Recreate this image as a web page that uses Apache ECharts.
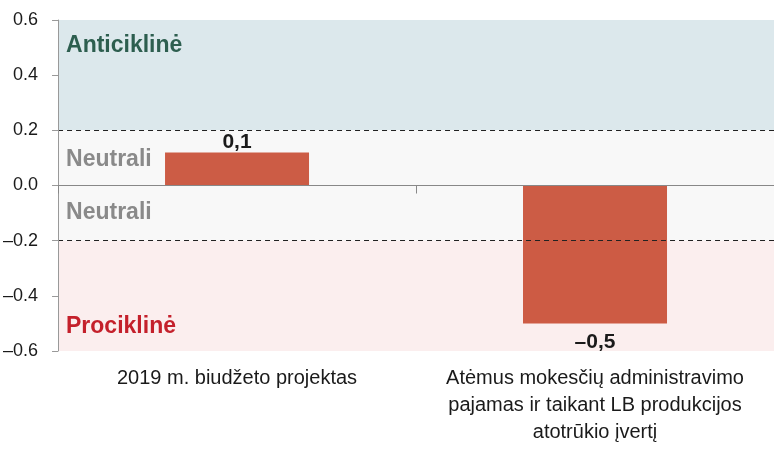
<!DOCTYPE html>
<html>
<head>
<meta charset="utf-8">
<script src="https://cdn.jsdelivr.net/npm/echarts@6/dist/echarts.min.js"></script>
<style>
html, body { margin: 0; padding: 0; background: #fff; }
#main { width: 774px; height: 453px; }
</style>
</head>
<body>
<div id="main"></div>
<script>
var categories = ['2019 m. biudžeto projektas', 'Atėmus mokesčių administravimo\npajamas ir taikant LB produkcijos\natotrūkio įvertį'];
var values = [0.12, -0.5];
var valueLabels = ['0,1', '–0,5'];
var zoneNames = ['Anticiklinė', 'Neutrali', 'Neutrali', 'Prociklinė'];
var zoneBounds = [[0.2, 0.6], [0, 0.2], [-0.2, 0], [-0.6, -0.2]];
var dashedLevels = [0.2, -0.2];

var font = "'Liberation Sans', Arial, sans-serif";
var zoneColors = ['#dce8ec', '#f8f8f8', '#f8f8f8', '#fbeeee'];
var zoneText = ['#2d5e4f', '#8a8a8a', '#8a8a8a', '#c4202b'];
var zonePos = ['insideTopLeft', 'insideLeft', 'insideLeft', 'insideBottomLeft'];
var zoneOffset = [[0, 6], [0, 2], [0, 0], [0, -5]];
var labelDistance = [0, 8];

var myChart = echarts.init(document.getElementById('main'));
var option = {
	animation: false,
	grid: {
		left: 58,
		right: 0,
		top: 20,
		bottom: 102
	},
	xAxis: [
		{
			type: 'category',
			data: categories,
			z: 10,
			axisLine: {show: true, onZero: true, lineStyle: {color: '#888'}},
			axisTick: {show: true, length: 8, lineStyle: {color: '#888'}},
			axisLabel: {show: false}
		},
		{
			type: 'category',
			data: categories,
			position: 'bottom',
			axisLine: {show: false},
			axisTick: {show: false},
			axisLabel: {
				interval: 0,
				margin: 14,
				color: '#1a1a1a',
				fontFamily: font,
				fontSize: 20,
				lineHeight: 27
			}
		}
	],
	yAxis: {
		type: 'value',
		min: -0.6,
		max: 0.6,
		interval: 0.2,
		z: 10,
		splitLine: {show: false},
		axisLine: {show: true, onZero: false, lineStyle: {color: '#999'}},
		axisTick: {show: true, length: 6, lineStyle: {color: '#999'}},
		axisLabel: {
			margin: 20,
			color: '#1a1a1a',
			fontFamily: font,
			fontSize: 18,
			formatter: function (v) {
				var s = Math.abs(v).toFixed(1);
				return v < -1e-9 ? '–' + s : s;
			}
		}
	},
	series: [
		{
			type: 'bar',
			xAxisIndex: 0,
			barWidth: 144,
			data: values.map(function (v, i) {
				return {
					value: v,
					label: {formatter: valueLabels[i], distance: labelDistance[i]}
				};
			}),
			itemStyle: {color: 'rgba(196,62,35,0.84)'},
			label: {
				show: true,
				position: 'outside',
				color: '#1a1a1a',
				fontFamily: font,
				fontWeight: 'bold',
				fontSize: 21
			},
			markArea: {
				silent: true,
				data: zoneBounds.map(function (b, i) {
					return [
						{
							yAxis: b[0],
							name: zoneNames[i],
							itemStyle: {color: zoneColors[i]},
							label: {
								show: true,
								position: zonePos[i],
								distance: 8,
								offset: zoneOffset[i],
								color: zoneText[i],
								fontFamily: font,
								fontWeight: 'bold',
								fontSize: 23
							}
						},
						{yAxis: b[1]}
					];
				})
			}
		},
		{
			// dashed limits drawn above the bars
			type: 'line',
			xAxisIndex: 0,
			data: [],
			zlevel: 1,
			z: 6,
			markLine: {
				silent: true,
				symbol: 'none',
				label: {show: false},
				data: dashedLevels.map(function (y) {
					return {yAxis: y, lineStyle: {type: [5, 4], color: '#222', width: 1}};
				})
			}
		}
	]
};
myChart.setOption(option);
</script>
</body>
</html>
